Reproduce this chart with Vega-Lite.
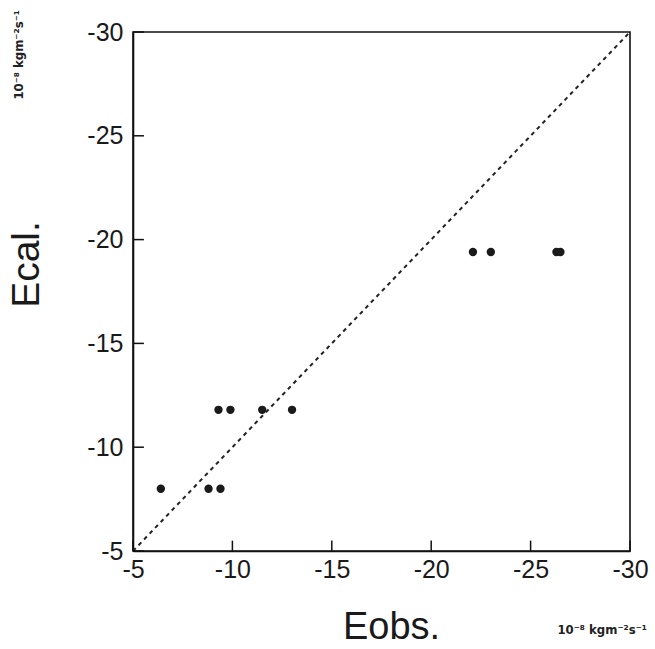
{
  "$schema": "https://vega.github.io/schema/vega-lite/v6.json",
  "autosize": {"type": "none"},
  "width": 497,
  "height": 519,
  "padding": {"left": 133, "top": 32, "right": 25, "bottom": 98},
  "background": "white",
  "config": {
    "view": {"stroke": "#111", "strokeWidth": 1.6},
    "font": "Liberation Sans",
    "axis": {
      "grid": false,
      "domainColor": "#111",
      "domainWidth": 1.6,
      "ticks": false,
      "labelFont": "Liberation Sans",
      "labelFontSize": 25,
      "labelColor": "#1a1a1a",
      "titleFont": "Liberation Sans",
      "titleFontWeight": "normal",
      "titleColor": "#1a1a1a"
    }
  },
  "datasets": {
    "ticks": [{"v": -5}, {"v": -10}, {"v": -15}, {"v": -20}, {"v": -25}, {"v": -30}]
  },
  "layer": [
    {
      "data": {"values": [{"obs": -5, "cal": -5}, {"obs": -30, "cal": -30}]},
      "mark": {"type": "line", "color": "#222", "strokeWidth": 2, "strokeDash": [4, 4]},
      "encoding": {
        "x": {
          "field": "obs", "type": "quantitative",
          "scale": {"domain": [-5, -30], "nice": false, "zero": false},
          "axis": {
            "values": [-5, -10, -15, -20, -25, -30],
            "labelExpr": "'-' + abs(datum.value)",
            "title": "Eobs.",
            "titleFontSize": 38,
            "titlePadding": 26,
            "titleX": 258,
            "labelPadding": 6,
            "labelFlush": false
          }
        },
        "y": {
          "field": "cal", "type": "quantitative",
          "scale": {"domain": [-5, -30], "nice": false, "zero": false},
          "axis": {
            "values": [-5, -10, -15, -20, -25, -30],
            "labelExpr": "'-' + abs(datum.value)",
            "title": "Ecal.",
            "titleFontSize": 39,
            "titlePadding": 40,
            "titleY": 232,
            "labelPadding": 10,
            "labelFlush": false
          }
        }
      }
    },
    {
      "data": {"name": "ticks"},
      "mark": {"type": "rule", "color": "#111", "strokeWidth": 1.5},
      "encoding": {
        "y": {"field": "v", "type": "quantitative"},
        "x": {"datum": -5},
        "x2": {"datum": -5.55}
      }
    },
    {
      "data": {"name": "ticks"},
      "mark": {"type": "rule", "color": "#111", "strokeWidth": 1.5},
      "encoding": {
        "x": {"field": "v", "type": "quantitative"},
        "y": {"datum": -5},
        "y2": {"datum": -5.5}
      }
    },
    {
      "data": {"values": [
        {"obs": -6.4, "cal": -8.0},
        {"obs": -8.8, "cal": -8.0},
        {"obs": -9.4, "cal": -8.0},
        {"obs": -9.3, "cal": -11.8},
        {"obs": -9.9, "cal": -11.8},
        {"obs": -11.5, "cal": -11.8},
        {"obs": -13.0, "cal": -11.8},
        {"obs": -22.1, "cal": -19.4},
        {"obs": -23.0, "cal": -19.4},
        {"obs": -26.3, "cal": -19.4},
        {"obs": -26.5, "cal": -19.4}
      ]},
      "mark": {"type": "point", "filled": true, "shape": "circle", "size": 70, "color": "#1a1a1a", "opacity": 1},
      "encoding": {
        "x": {"field": "obs", "type": "quantitative"},
        "y": {"field": "cal", "type": "quantitative"}
      }
    },
    {
      "data": {"values": [{"unit": "10⁻⁸ kgm⁻²s⁻¹"}]},
      "mark": {"type": "text", "font": "DejaVu Sans Condensed", "fontWeight": "bold", "fontSize": 13, "color": "#222", "align": "center", "baseline": "middle"},
      "encoding": {
        "text": {"field": "unit"},
        "x": {"datum": -28.6},
        "y": {"datum": -1.2}
      }
    },
    {
      "data": {"values": [{"unit": "10⁻⁸ kgm⁻²s⁻¹"}]},
      "mark": {"type": "text", "font": "DejaVu Sans Condensed", "fontWeight": "bold", "fontSize": 13, "color": "#222", "align": "center", "baseline": "middle", "angle": 270},
      "encoding": {
        "text": {"field": "unit"},
        "x": {"datum": 0.75},
        "y": {"datum": -28.9}
      }
    }
  ]
}
